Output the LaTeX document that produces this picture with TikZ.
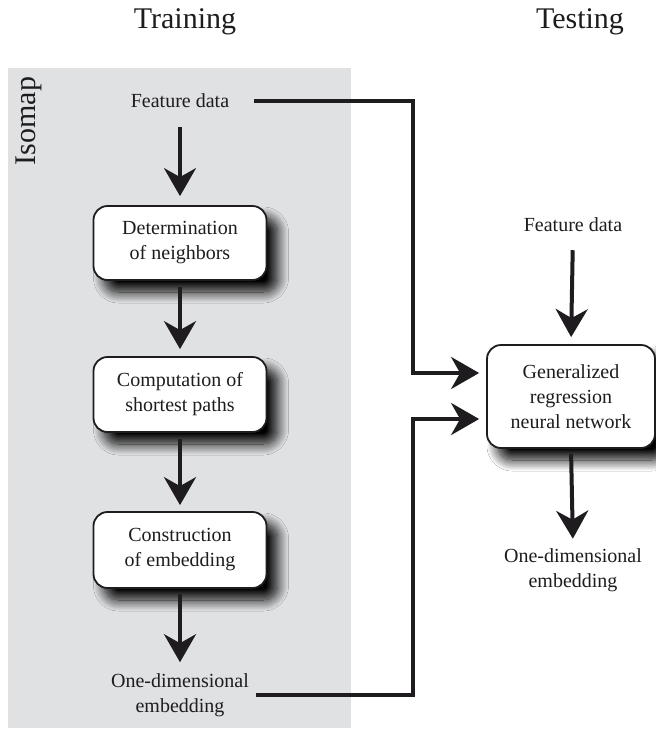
\documentclass[tikz,border=0pt]{standalone}
\usepackage{fontspec}
\setmainfont{Liberation Serif}
\usetikzlibrary{arrows.meta,shadows.blur,calc}
\definecolor{panelgray}{RGB}{224,225,227}
\definecolor{inkblack}{RGB}{30,28,30}
\begin{document}
\begin{tikzpicture}[x=1pt,y=-1pt,
  txt/.style={align=center,inner sep=2pt,text=inkblack,font=\fontsize{20}{25}\selectfont},
  head/.style={inner sep=0pt,text=inkblack,font=\fontsize{30}{34}\selectfont},
  procbox/.style={draw=inkblack,line width=1.8pt,fill=white,rounded corners=14pt,
    align=center,inner sep=0pt,text=inkblack,font=\fontsize{20}{25}\selectfont,
    blur shadow={shadow xshift=11pt,shadow yshift=-12pt,shadow blur radius=11pt,shadow blur steps=16,shadow opacity=100}},
  conn/.style={draw=inkblack,line width=4pt,-{Stealth[length=28pt,width=32pt,inset=9pt]}},
]
\useasboundingbox (0,0) rectangle (656,729);
\fill[white] (0,0) rectangle (656,729);
\fill[panelgray] (8,68) rectangle (351,728);

\node[head] (train) at (185,22) {Training};
\node[head] (test) at (580,22) {Testing};
\node[head,rotate=90] (iso) at (29,121) {Isomap};

\node[txt] (fd1) at (180,101) {Feature data};
\node[procbox,minimum width=173pt,minimum height=74pt] (b1) at (180,243) {Determination\\of neighbors};
\node[procbox,minimum width=173pt,minimum height=75pt] (b2) at (180,394.5) {Computation of\\shortest paths};
\node[procbox,minimum width=173pt,minimum height=76pt] (b3) at (180,550) {Construction\\of embedding};
\node[txt] (od1) at (180,695) {One-dimensional\\embedding};

\node[txt] (fd2) at (573,225) {Feature data};
\node[procbox,minimum width=168pt,minimum height=103pt] (g) at (571,396.5) {Generalized\\regression\\neural network};
\node[txt] (od2) at (573,570.5) {One-dimensional\\embedding};

\coordinate (kx) at (413,0);
\coordinate (gin1) at ($(g.west)+(0,-23.5)$);
\coordinate (gin2) at ($(g.west)+(0,22.5)$);

\draw[conn,shorten <=17pt,shorten >=9pt] (fd1.south) -- (b1.north);
\draw[conn,shorten <=6pt,shorten >=7pt] (b1.south) -- (b2.north);
\draw[conn,shorten <=6pt,shorten >=6pt] (b2.south) -- (b3.north);
\draw[conn,shorten <=5pt,shorten >=9pt] (b3.south) -- (od1.north);
\draw[conn,shorten <=16pt,shorten >=7pt] (fd2.south) -- (g.north);
\draw[conn,shorten <=5pt,shorten >=8pt] (g.south) -- (od2.north);

\draw[conn,shorten <=23pt,shorten >=7pt] (fd1.east) -| (kx |- gin1) -- (gin1);
\draw[conn,shorten <=5pt,shorten >=7pt] (od1.east) -| (kx |- gin2) -- (gin2);
\end{tikzpicture}
\end{document}
